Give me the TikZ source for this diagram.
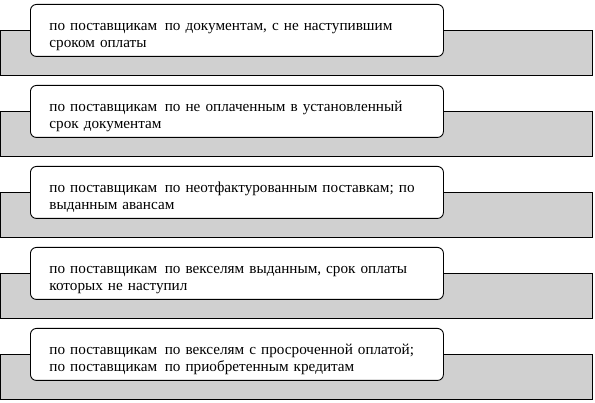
\documentclass[tikz,border=0pt]{standalone}
\usepackage{fontspec}
\setmainfont{Liberation Serif}
\tikzset{
  x=1pt,y=1pt,
  bar/.style={draw=black, line width=0.9pt, fill=barfill},
  card/.style={draw=black, line width=0.9pt, fill=white, rounded corners=6pt,
    minimum width=413pt, minimum height=52pt, anchor=north west,
    text width=375pt, align=left, inner xsep=19pt, inner ysep=0pt,
    font=\fontsize{15.2}{17}\selectfont},
}
\definecolor{barfill}{RGB}{208,208,208}
\newcommand{\dsp}{\hspace{0.5em}}
\newcommand{\topstrut}{\rule{0pt}{20pt}}
\begin{document}
\begin{tikzpicture}
\useasboundingbox (0,0) rectangle (595,403);
\foreach \i/\txt in {
  0/{по поставщикам\dsp по документам, с не наступившим\\сроком оплаты},
  1/{по поставщикам\dsp по не оплаченным в установленный\\срок документам},
  2/{по поставщикам\dsp по неотфактурованным поставкам; по\\выданным авансам},
  3/{по поставщикам\dsp по векселям выданным, срок оплаты\\которых не наступил},
  4/{по поставщикам\dsp по векселям с просроченной оплатой;\\по поставщикам\dsp по приобретенным кредитам}} {
  \pgfmathsetmacro{\d}{81*\i}
  \draw[bar] (0.5,{403-30-\d}) rectangle (592.5,{403-75-\d});
  \node[card] (c\i) at (30,{403-4-\d}) {\topstrut\txt};
}
\end{tikzpicture}
\end{document}
